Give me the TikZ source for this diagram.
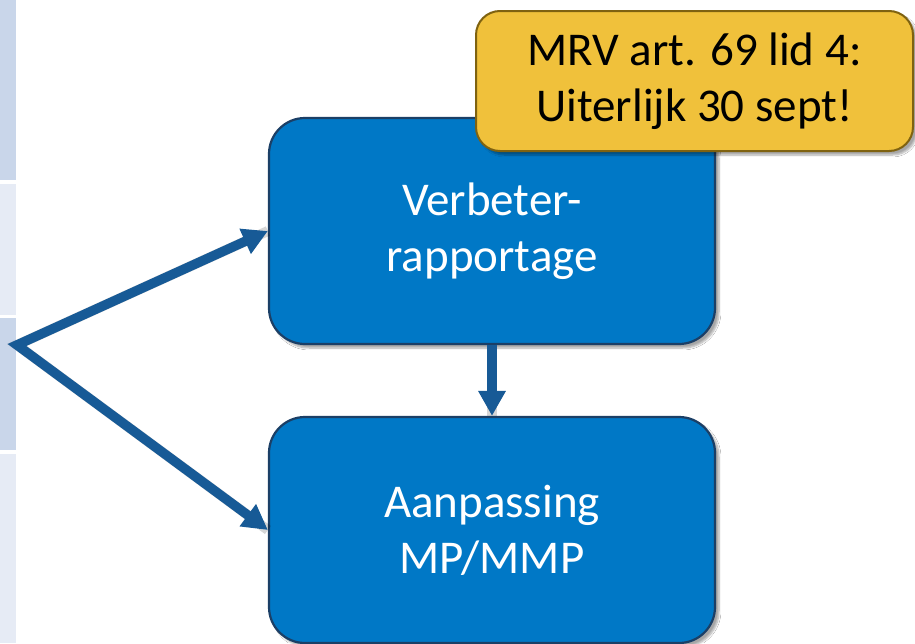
\documentclass[tikz,border=0pt]{standalone}
\usepackage{fontspec}
\setmainfont{Carlito}
\usetikzlibrary{arrows.meta,shadows.blur}
\definecolor{boxblue}{HTML}{0078C6}
\definecolor{boxedge}{HTML}{1B3F66}
\definecolor{arrowblue}{HTML}{175A96}
\definecolor{noteyellow}{HTML}{F0C13B}
\definecolor{noteedge}{HTML}{7F6210}
\definecolor{stripdark}{HTML}{C9D6EA}
\definecolor{striplight}{HTML}{E6EBF5}
\tikzset{
  flowbox/.style={rectangle, rounded corners=36pt, fill=boxblue, draw=boxedge, line width=2.2pt,
    minimum width=446pt, minimum height=226pt, inner sep=0pt, align=center, text=white,
    font=\fontsize{47}{56}\selectfont,
    blur shadow={shadow xshift=4pt, shadow yshift=-4pt, shadow blur steps=6, shadow opacity=35}},
  notebox/.style={rectangle, rounded corners=24pt, fill=noteyellow, draw=noteedge, line width=2pt,
    minimum width=437pt, minimum height=140pt, inner sep=0pt, align=center, text=black,
    font=\fontsize{47}{56}\selectfont,
    blur shadow={shadow xshift=4pt, shadow yshift=-4pt, shadow blur steps=6, shadow opacity=35}},
  flowarrow/.style={draw=arrowblue, line width=9.5pt, line join=miter,
    >={Triangle[length=25pt,width=26pt]}},
  flowshadow/.style={draw=black, opacity=0.16, line width=10pt, line join=miter},
}
\begin{document}
\begin{tikzpicture}[x=1pt,y=-1pt]
\useasboundingbox (0,0) rectangle (915,643);
\fill[white] (0,0) rectangle (915,643);
% left strip
\fill[stripdark] (0,0) rectangle (16,180);
\fill[striplight] (0,184) rectangle (16,315);
\fill[stripdark] (0,318) rectangle (16,450);
\fill[striplight] (0,454) rectangle (16,643);
% boxes
\node[flowbox] (b1) at (492,231) {Verbeter-\\rapportage};
\node[flowbox] (b2) at (492,530) {Aanpassing\\MP/MMP};
\coordinate (apex) at (17,345);
% arrow shadows
\draw[flowshadow, shift={(4,4)}] (b1.west) -- (apex) -- (b2.west);
\draw[flowshadow, shift={(4,4)}] (b1.south) -- (b2.north);
% arrows
\draw[flowarrow, <->] (b1.west) -- (apex) -- (b2.west);
\draw[flowarrow, ->] (b1.south) -- (b2.north);
% note
\node[notebox] (note) at (694.5,81) {MRV art. 69 lid 4:\\Uiterlijk 30 sept!};
\end{tikzpicture}
\end{document}
